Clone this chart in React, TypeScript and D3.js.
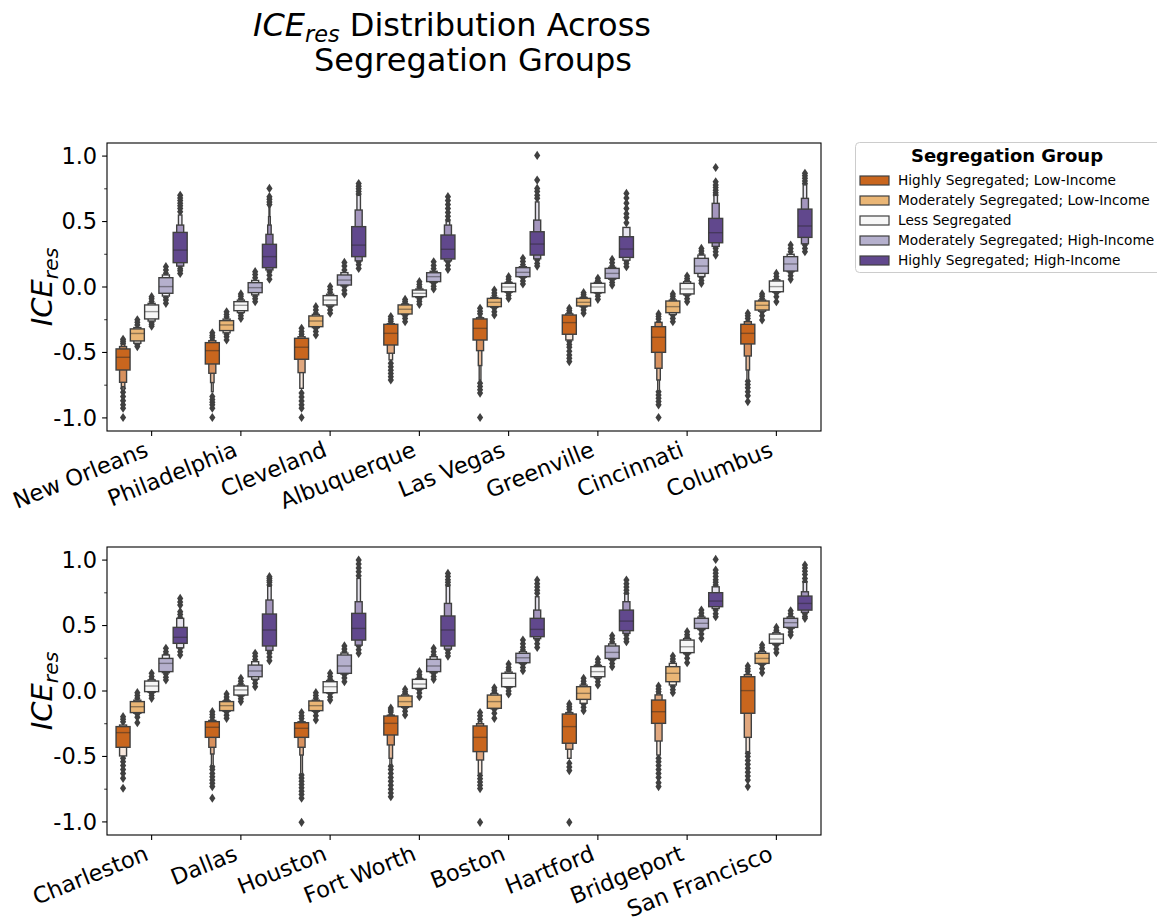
import React from "react";
import * as d3 from "d3";

type Box = { m: number; lv: [number, number][]; o: number[] };

const groups = [
  "Highly Segregated; Low-Income",
  "Moderately Segregated; Low-Income",
  "Less Segregated",
  "Moderately Segregated; High-Income",
  "Highly Segregated; High-Income",
];
const colors = ["#c9661e", "#eab676", "#f7f7f7", "#b5b0cd", "#61488d"];

const topCities = ["New Orleans", "Philadelphia", "Cleveland", "Albuquerque", "Las Vegas", "Greenville", "Cincinnati", "Columbus"];
const bottomCities = ["Charleston", "Dallas", "Houston", "Fort Worth", "Boston", "Hartford", "Bridgeport", "San Francisco"];

const yTicks = [-1, -0.5, 0, 0.5, 1];
const yTickLabels = ["-1.0", "-0.5", "0.0", "0.5", "1.0"];
const yMinorTicks = [-0.75, -0.25, 0.25, 0.75];

// ---- Top panel ----
const topHSLI: Box[] = [
  { m: -0.537, lv: [[-0.634, -0.473], [-0.728, -0.455], [-0.761, -0.44], [-0.79, -0.43]], o: [-0.4, -0.415, -0.43, -0.774, -0.804, -0.837, -0.868, -0.9, -0.926, -0.997] },
  { m: -0.486, lv: [[-0.588, -0.425], [-0.659, -0.41], [-0.73, -0.4], [-0.8, -0.395]], o: [-0.35, -0.37, -0.385, -0.837, -0.86, -0.88, -0.9, -0.926, -0.997] },
  { m: -0.46, lv: [[-0.552, -0.392], [-0.654, -0.38], [-0.774, -0.37]], o: [-0.316, -0.34, -0.36, -0.81, -0.84, -0.87, -0.9, -0.926, -0.997] },
  { m: -0.354, lv: [[-0.443, -0.285], [-0.506, -0.28], [-0.557, -0.275]], o: [-0.226, -0.245, -0.262, -0.583, -0.61, -0.635, -0.66, -0.685, -0.71] },
  { m: -0.316, lv: [[-0.405, -0.244], [-0.486, -0.235], [-0.6, -0.23], [-0.71, -0.225]], o: [-0.163, -0.185, -0.205, -0.735, -0.76, -0.785, -0.81, -0.997] },
  { m: -0.272, lv: [[-0.361, -0.214], [-0.405, -0.205]], o: [-0.163, -0.18, -0.195, -0.417, -0.44, -0.46, -0.49, -0.52, -0.545, -0.57] },
  { m: -0.384, lv: [[-0.499, -0.303], [-0.621, -0.27], [-0.71, -0.265], [-0.79, -0.26]], o: [-0.206, -0.225, -0.245, -0.8, -0.825, -0.85, -0.875, -0.9, -0.997] },
  { m: -0.354, lv: [[-0.435, -0.285], [-0.527, -0.265], [-0.634, -0.26], [-0.71, -0.255]], o: [-0.201, -0.22, -0.24, -0.72, -0.745, -0.77, -0.8, -0.83, -0.875] },
];
const topMSLI: Box[] = [
  { m: -0.355, lv: [[-0.412, -0.32], [-0.43, -0.31]], o: [-0.25, -0.27, -0.29, -0.44, -0.455] },
  { m: -0.29, lv: [[-0.333, -0.257], [-0.35, -0.245]], o: [-0.19, -0.21, -0.23, -0.36, -0.38, -0.405] },
  { m: -0.26, lv: [[-0.303, -0.221], [-0.31, -0.21]], o: [-0.15, -0.175, -0.2, -0.316, -0.34, -0.366] },
  { m: -0.17, lv: [[-0.206, -0.137], [-0.21, -0.13]], o: [-0.095, -0.11, -0.125, -0.22, -0.24, -0.265] },
  { m: -0.117, lv: [[-0.15, -0.087], [-0.155, -0.08]], o: [-0.023, -0.045, -0.065, -0.163, -0.19, -0.214] },
  { m: -0.117, lv: [[-0.145, -0.087], [-0.15, -0.08]], o: [-0.043, -0.06, -0.075, -0.155, -0.175, -0.2] },
  { m: -0.15, lv: [[-0.196, -0.107], [-0.21, -0.1]], o: [-0.053, -0.07, -0.09, -0.215, -0.24, -0.265] },
  { m: -0.14, lv: [[-0.176, -0.107], [-0.185, -0.1]], o: [-0.053, -0.07, -0.09, -0.19, -0.22, -0.252] },
];
const topLS: Box[] = [
  { m: -0.188, lv: [[-0.244, -0.137], [-0.26, -0.125]], o: [-0.074, -0.09, -0.11, -0.27, -0.285, -0.3] },
  { m: -0.14, lv: [[-0.181, -0.112], [-0.195, -0.1]], o: [-0.053, -0.07, -0.09, -0.2, -0.22, -0.24] },
  { m: -0.1, lv: [[-0.137, -0.066], [-0.145, -0.055]], o: [0.003, -0.02, -0.04, -0.15, -0.175, -0.2] },
  { m: -0.048, lv: [[-0.074, -0.023], [-0.08, -0.015]], o: [0.041, 0.02, 0.0, -0.09, -0.11, -0.132] },
  { m: 0.0, lv: [[-0.036, 0.028], [-0.04, 0.035]], o: [0.079, 0.06, 0.04, -0.045, -0.065, -0.087] },
  { m: 0.0, lv: [[-0.043, 0.028], [-0.045, 0.035]], o: [0.066, 0.05, 0.04, -0.05, -0.07, -0.094] },
  { m: -0.015, lv: [[-0.053, 0.028], [-0.06, 0.04]], o: [0.084, 0.065, 0.05, -0.065, -0.09, -0.112] },
  { m: 0.003, lv: [[-0.036, 0.046], [-0.04, 0.055]], o: [0.104, 0.08, 0.06, -0.045, -0.075, -0.112] },
];
const topMSHI: Box[] = [
  { m: 0.003, lv: [[-0.048, 0.071], [-0.069, 0.092]], o: [0.155, 0.13, 0.105, -0.08, -0.1, -0.125] },
  { m: -0.005, lv: [[-0.043, 0.033], [-0.06, 0.05]], o: [0.117, 0.095, 0.07, -0.07, -0.09, -0.112] },
  { m: 0.053, lv: [[0.015, 0.092], [0.01, 0.11]], o: [0.188, 0.16, 0.13, 0.003, -0.025, -0.053] },
  { m: 0.079, lv: [[0.041, 0.109], [0.035, 0.12]], o: [0.193, 0.165, 0.14, 0.028, 0.005, -0.015] },
  { m: 0.112, lv: [[0.079, 0.148], [0.075, 0.155]], o: [0.219, 0.195, 0.17, 0.07, 0.045, 0.023] },
  { m: 0.104, lv: [[0.066, 0.142], [0.06, 0.15]], o: [0.211, 0.185, 0.16, 0.055, 0.035, 0.015] },
  { m: 0.16, lv: [[0.104, 0.219], [0.08, 0.244]], o: [0.295, 0.275, 0.255, 0.075, 0.05, 0.028] },
  { m: 0.176, lv: [[0.122, 0.232], [0.118, 0.25]], o: [0.321, 0.295, 0.27, 0.11, 0.085, 0.059] },
];
const topHSHI: Box[] = [
  { m: 0.282, lv: [[0.186, 0.417], [0.16, 0.473], [0.155, 0.55]], o: [0.7, 0.68, 0.66, 0.64, 0.62, 0.6, 0.575, 0.14, 0.125, 0.104] },
  { m: 0.232, lv: [[0.148, 0.326], [0.13, 0.402], [0.125, 0.473], [0.12, 0.537], [0.12, 0.626]], o: [0.753, 0.69, 0.67, 0.65, 0.63, 0.117, 0.09, 0.06] },
  { m: 0.32, lv: [[0.232, 0.461], [0.2, 0.588], [0.195, 0.7]], o: [0.79, 0.77, 0.75, 0.73, 0.71, 0.193, 0.17, 0.142] },
  { m: 0.288, lv: [[0.214, 0.397], [0.2, 0.473], [0.195, 0.5]], o: [0.69, 0.66, 0.63, 0.6, 0.57, 0.54, 0.511, 0.193, 0.165, 0.135] },
  { m: 0.328, lv: [[0.244, 0.422], [0.215, 0.511], [0.21, 0.65]], o: [1.005, 0.817, 0.753, 0.73, 0.7, 0.677, 0.206, 0.18, 0.16] },
  { m: 0.29, lv: [[0.226, 0.384], [0.205, 0.455]], o: [0.715, 0.68, 0.64, 0.6, 0.56, 0.53, 0.49, 0.2, 0.18, 0.155] },
  { m: 0.415, lv: [[0.338, 0.524], [0.31, 0.639], [0.3, 0.7]], o: [0.913, 0.804, 0.78, 0.76, 0.74, 0.72, 0.702, 0.295, 0.27, 0.244] },
  { m: 0.466, lv: [[0.379, 0.595], [0.33, 0.677], [0.325, 0.78]], o: [0.868, 0.85, 0.83, 0.81, 0.79, 0.321, 0.295, 0.27] },
];

// ---- Bottom panel ----
const botHSLI: Box[] = [
  { m: -0.318, lv: [[-0.43, -0.272], [-0.496, -0.26]], o: [-0.196, -0.215, -0.235, -0.514, -0.54, -0.57, -0.6, -0.63, -0.667, -0.743] },
  { m: -0.277, lv: [[-0.354, -0.234], [-0.43, -0.225], [-0.481, -0.22], [-0.57, -0.215]], o: [-0.158, -0.18, -0.2, -0.578, -0.6, -0.63, -0.655, -0.68, -0.705, -0.73, -0.819] },
  { m: -0.285, lv: [[-0.354, -0.242], [-0.43, -0.235], [-0.489, -0.23], [-0.63, -0.225]], o: [-0.165, -0.19, -0.21, -0.641, -0.665, -0.69, -0.715, -0.74, -0.765, -0.79, -0.819, -1.003] },
  { m: -0.247, lv: [[-0.336, -0.191], [-0.412, -0.185], [-0.514, -0.18], [-0.56, -0.175]], o: [-0.13, -0.145, -0.16, -0.575, -0.6, -0.63, -0.66, -0.69, -0.72, -0.75, -0.78, -0.807] },
  { m: -0.354, lv: [[-0.463, -0.267], [-0.527, -0.25], [-0.628, -0.235]], o: [-0.165, -0.19, -0.215, -0.645, -0.67, -0.695, -0.72, -0.745, -1.003] },
  { m: -0.272, lv: [[-0.399, -0.176], [-0.445, -0.165], [-0.514, -0.16]], o: [-0.099, -0.12, -0.14, -0.552, -0.58, -0.608, -1.003] },
  { m: -0.158, lv: [[-0.247, -0.069], [-0.382, -0.03], [-0.489, -0.02]], o: [0.038, 0.015, -0.005, -0.514, -0.54, -0.57, -0.6, -0.63, -0.66, -0.7, -0.73] },
  { m: 0.003, lv: [[-0.17, 0.109], [-0.354, 0.125], [-0.463, 0.13]], o: [0.191, 0.17, 0.15, -0.476, -0.5, -0.53, -0.56, -0.59, -0.62, -0.65, -0.68, -0.73] },
];
const botMSLI: Box[] = [
  { m: -0.12, lv: [[-0.165, -0.081], [-0.17, -0.07]], o: [-0.013, -0.035, -0.055, -0.175, -0.2, -0.242] },
  { m: -0.112, lv: [[-0.15, -0.081], [-0.155, -0.075]], o: [-0.023, -0.045, -0.065, -0.16, -0.185, -0.209] },
  { m: -0.112, lv: [[-0.15, -0.076], [-0.155, -0.07]], o: [-0.013, -0.035, -0.055, -0.16, -0.19, -0.221] },
  { m: -0.081, lv: [[-0.12, -0.038], [-0.125, -0.03]], o: [0.013, -0.005, -0.02, -0.13, -0.155, -0.183] },
  { m: -0.081, lv: [[-0.132, -0.031], [-0.135, -0.02]], o: [0.025, 0.005, -0.01, -0.14, -0.17, -0.209] },
  { m: -0.018, lv: [[-0.064, 0.033], [-0.094, 0.045]], o: [0.097, 0.075, 0.055, -0.1, -0.125, -0.15] },
  { m: 0.135, lv: [[0.071, 0.186], [0.046, 0.211]], o: [0.267, 0.245, 0.225, 0.035, 0.01, -0.013] },
  { m: 0.249, lv: [[0.211, 0.288], [0.205, 0.3]], o: [0.351, 0.33, 0.31, 0.2, 0.17, 0.14] },
];
const botLS: Box[] = [
  { m: 0.038, lv: [[-0.005, 0.076], [-0.01, 0.085]], o: [0.135, 0.11, 0.09, -0.015, -0.035, -0.056] },
  { m: 0.008, lv: [[-0.031, 0.038], [-0.035, 0.045]], o: [0.097, 0.075, 0.055, -0.04, -0.06, -0.081] },
  { m: 0.033, lv: [[-0.013, 0.071], [-0.015, 0.08]], o: [0.135, 0.11, 0.09, -0.02, -0.045, -0.069] },
  { m: 0.053, lv: [[0.02, 0.089], [0.015, 0.095]], o: [0.148, 0.125, 0.105, 0.01, -0.015, -0.043] },
  { m: 0.097, lv: [[0.033, 0.135], [0.03, 0.145]], o: [0.206, 0.18, 0.16, 0.025, 0.0, -0.023] },
  { m: 0.148, lv: [[0.109, 0.186], [0.1, 0.195]], o: [0.242, 0.22, 0.2, 0.095, 0.07, 0.046] },
  { m: 0.338, lv: [[0.293, 0.389], [0.285, 0.4]], o: [0.453, 0.43, 0.41, 0.28, 0.25, 0.216] },
  { m: 0.397, lv: [[0.364, 0.435], [0.355, 0.445]], o: [0.486, 0.465, 0.45, 0.35, 0.32, 0.293] },
];
const botMSHI: Box[] = [
  { m: 0.211, lv: [[0.148, 0.249], [0.14, 0.275]], o: [0.326, 0.3, 0.28, 0.13, 0.105, 0.084] },
  { m: 0.153, lv: [[0.109, 0.198], [0.09, 0.224]], o: [0.288, 0.265, 0.24, 0.084, 0.06, 0.033] },
  { m: 0.191, lv: [[0.135, 0.275], [0.13, 0.29]], o: [0.344, 0.32, 0.3, 0.125, 0.1, 0.071] },
  { m: 0.191, lv: [[0.148, 0.242], [0.14, 0.262]], o: [0.326, 0.3, 0.275, 0.135, 0.11, 0.089] },
  { m: 0.254, lv: [[0.216, 0.288], [0.21, 0.3]], o: [0.389, 0.36, 0.335, 0.313, 0.205, 0.18, 0.155] },
  { m: 0.295, lv: [[0.249, 0.344], [0.24, 0.36]], o: [0.422, 0.4, 0.375, 0.235, 0.21, 0.186] },
  { m: 0.517, lv: [[0.478, 0.555], [0.47, 0.565]], o: [0.618, 0.595, 0.575, 0.465, 0.435, 0.402] },
  { m: 0.522, lv: [[0.486, 0.555], [0.48, 0.565]], o: [0.613, 0.59, 0.57, 0.475, 0.45, 0.427] },
];
const botHSHI: Box[] = [
  { m: 0.41, lv: [[0.364, 0.486], [0.33, 0.555]], o: [0.707, 0.68, 0.656, 0.606, 0.585, 0.562, 0.326, 0.3, 0.275] },
  { m: 0.466, lv: [[0.344, 0.588], [0.31, 0.695], [0.3, 0.8]], o: [0.873, 0.86, 0.845, 0.83, 0.809, 0.288, 0.26, 0.232] },
  { m: 0.478, lv: [[0.389, 0.593], [0.35, 0.682], [0.345, 0.86]], o: [1.0, 0.97, 0.94, 0.91, 0.88, 0.344, 0.315, 0.288] },
  { m: 0.466, lv: [[0.344, 0.573], [0.32, 0.669], [0.315, 0.8]], o: [0.898, 0.875, 0.85, 0.83, 0.809, 0.313, 0.29, 0.267] },
  { m: 0.471, lv: [[0.415, 0.555], [0.4, 0.618], [0.395, 0.72]], o: [0.847, 0.82, 0.795, 0.77, 0.746, 0.389, 0.36, 0.333] },
  { m: 0.534, lv: [[0.461, 0.618], [0.44, 0.682], [0.435, 0.74]], o: [0.847, 0.82, 0.795, 0.77, 0.746, 0.427, 0.4, 0.377] },
  { m: 0.687, lv: [[0.644, 0.751], [0.63, 0.796]], o: [1.005, 0.924, 0.9, 0.875, 0.85, 0.83, 0.809, 0.618, 0.59, 0.567] },
  { m: 0.669, lv: [[0.618, 0.725], [0.6, 0.758], [0.595, 0.83]], o: [0.962, 0.94, 0.915, 0.89, 0.86, 0.835, 0.59, 0.57, 0.555] },
];

const topPanel = [topHSLI, topMSLI, topLS, topMSHI, topHSHI];
const botPanel = [botHSLI, botMSLI, botLS, botMSHI, botHSHI];

const FONT = "DejaVu Sans, Verdana, sans-serif";
const GRAY = "#404040";
const AX_L = 107;
const AX_R = 821;

function Panel({ cities, data, top, bottom }: { cities: string[]; data: Box[][]; top: number; bottom: number }) {
  const x = d3.scaleBand<string>().domain(cities).range([AX_L, AX_R]).paddingInner(0).paddingOuter(0);
  const bw = x.bandwidth();
  const hue = d3.scaleBand<string>().domain(groups).range([-0.4 * bw, 0.4 * bw]);
  const boxW = hue.bandwidth() * 0.98;
  const y = d3.scaleLinear().domain([-1.1, 1.1]).range([bottom, top]);
  const diamond = (cx: number, cy: number) => {
    const h = 4.6, w = 3.1;
    return `M${cx},${cy - h}L${cx + w},${cy}L${cx},${cy + h}L${cx - w},${cy}Z`;
  };
  const midY = (top + bottom) / 2;
  return (
    <g>
      {cities.map((c, ci) =>
        groups.map((g, gi) => {
          const b = data[gi][ci];
          const cx = (x(c) as number) + bw / 2 + (hue(g) as number) + hue.bandwidth() / 2;
          const col = colors[gi];
          const light = d3.interpolateRgb(col, "#ffffff")(0.85);
          const n = b.lv.length;
          const rects = [];
          for (let i = n - 1; i >= 0; i--) {
            const w = boxW * Math.pow(2, -i);
            const t = n > 1 ? i / (n - 1) : 0;
            const fill = d3.interpolateRgb(col, light)(t);
            const [lo, hi] = b.lv[i];
            rects.push(
              <rect key={"r" + i} x={cx - w / 2} y={y(hi)} width={w} height={y(lo) - y(hi)} fill={fill} stroke={GRAY} strokeWidth={1.4} />
            );
          }
          return (
            <g key={c + g}>
              {b.o.map((v, k) => (
                <path key={"o" + k} d={diamond(cx, y(v))} fill={GRAY} />
              ))}
              {rects}
              <line x1={cx - boxW / 2} x2={cx + boxW / 2} y1={y(b.m)} y2={y(b.m)} stroke="rgba(38,38,38,0.45)" strokeWidth={1.4} />
            </g>
          );
        })
      )}
      <rect x={AX_L} y={top} width={AX_R - AX_L} height={bottom - top} fill="none" stroke="#000" strokeWidth={1.1} />
      {yTicks.map((t, i) => (
        <g key={"yt" + i}>
          <line x1={AX_L - 4.9} x2={AX_L} y1={y(t)} y2={y(t)} stroke="#000" strokeWidth={1.1} />
          <text x={AX_L - 9.8} y={y(t)} dy="0.35em" textAnchor="end" fontSize={22.5} fontFamily={FONT} fill="#000">
            {yTickLabels[i]}
          </text>
        </g>
      ))}
      {yMinorTicks.map((t, i) => (
        <line key={"ym" + i} x1={AX_L - 2.8} x2={AX_L} y1={y(t)} y2={y(t)} stroke="#000" strokeWidth={0.8} />
      ))}
      {cities.map((c) => {
        const cx = (x(c) as number) + bw / 2;
        return (
          <g key={"xt" + c}>
            <line x1={cx} x2={cx} y1={bottom} y2={bottom + 4.9} stroke="#000" strokeWidth={1.1} />
            <text transform={`translate(${cx - 2},${bottom + 24.5}) rotate(-22)`} textAnchor="end" fontSize={22.5} fontFamily={FONT} fill="#000">
              {c}
            </text>
          </g>
        );
      })}
      <text transform={`translate(52,${midY}) rotate(-90)`} textAnchor="middle" fontSize={29} fontFamily={FONT} fill="#000">
        <tspan fontStyle="italic">ICE</tspan>
        <tspan fontStyle="italic" fontSize={20.3} dy={6}>res</tspan>
      </text>
    </g>
  );
}

export default function App() {
  return (
    <svg width={1157} height={917} style={{ position: "absolute", left: 0, top: 0, background: "#fff" }} fontFamily={FONT}>
      <rect x={0} y={0} width={1157} height={917} fill="#fff" />
      <text x={452} y={36} textAnchor="middle" fontSize={32} fontFamily={FONT} fill="#000">
        <tspan fontStyle="italic">ICE</tspan>
        <tspan fontStyle="italic" fontSize={22.4} dy={6}>res</tspan>
        <tspan dy={-6}> Distribution Across</tspan>
      </text>
      <text x={473} y={71} textAnchor="middle" fontSize={32} fontFamily={FONT} fill="#000">
        Segregation Groups
      </text>
      <Panel cities={topCities} data={topPanel} top={143} bottom={431} />
      <Panel cities={bottomCities} data={botPanel} top={547} bottom={835} />
      <g>
        <rect x={855.5} y={142.5} width={330} height={130} rx={4} fill="#fff" fillOpacity={0.8} stroke="#cccccc" strokeWidth={1} />
        <text x={1007} y={162} textAnchor="middle" fontSize={18} fontWeight="bold" fontFamily={FONT} fill="#000">
          Segregation Group
        </text>
        {groups.map((g, i) => {
          const cy = 180.5 + i * 20;
          return (
            <g key={"lg" + i}>
              <rect x={860} y={cy - 4.5} width={29} height={9} fill={colors[i]} stroke={GRAY} strokeWidth={1.2} />
              <text x={898} y={cy + 4.8} fontSize={13.7} fontFamily={FONT} fill="#000">
                {g}
              </text>
            </g>
          );
        })}
      </g>
    </svg>
  );
}
